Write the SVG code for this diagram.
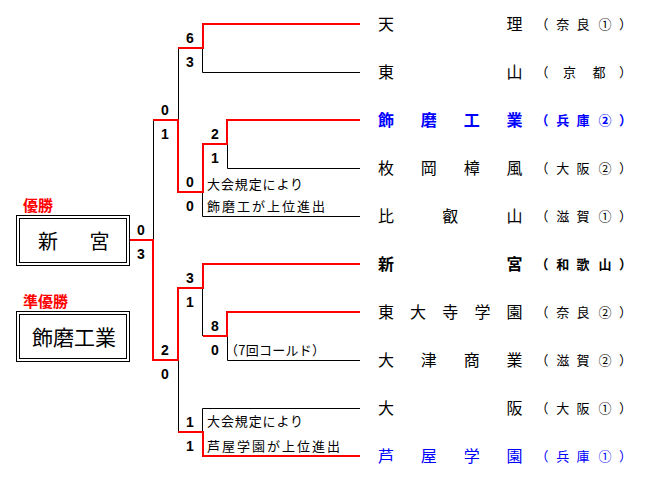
<svg xmlns="http://www.w3.org/2000/svg" width="648" height="481" viewBox="0 0 648 481">
<style>
.bg{fill:#fff}
.red{stroke:#f00;stroke-width:2;fill:none}
.blk{stroke:#000;stroke-width:1;fill:none}
.box{stroke:#000;stroke-width:1;fill:#fff}
.sc{font-family:"Liberation Sans",Arial,sans-serif;font-weight:bold;font-size:14px;text-anchor:middle;fill:#000}
.tn{font-family:"Noto Sans CJK JP","Noto Sans CJK SC",sans-serif;font-size:16px;text-anchor:middle;fill:#000}
.pf{font-family:"Noto Sans CJK JP","Noto Sans CJK SC",sans-serif;font-size:13px;text-anchor:middle;fill:#000}
.note{font-family:"Noto Sans CJK JP","Noto Sans CJK SC",sans-serif;font-size:13px;fill:#000}
.lbl{font-family:"Noto Sans CJK JP","Noto Sans CJK SC",sans-serif;font-size:15px;font-weight:bold;fill:#f00}
.bx{font-family:"Noto Sans CJK JP","Noto Sans CJK SC",sans-serif;text-anchor:middle;fill:#000}
.b{font-weight:bold}
.blue{fill:#00f}
</style>
<rect class="bg" x="0" y="0" width="648" height="481"/>

<g id="connectors">
  <path class="blk" d="M202.5,48 V72.5 H360"/>
  <path class="blk" d="M178.5,48 V120"/>
  <path class="blk" d="M227.5,144 V168.5 H360"/>
  <path class="blk" d="M202.5,192 V216.5 H360"/>
  <path class="blk" d="M153.5,120 V240"/>
  <path class="blk" d="M202.5,288 V336"/>
  <path class="blk" d="M227.5,336 V360.5 H360"/>
  <path class="blk" d="M178.5,360 V432"/>
  <path class="blk" d="M202.5,432 V408.5 H360"/>
  <path class="red" d="M360,24 H203 V48 H178"/>
  <path class="red" d="M360,120 H227 V144 H203 V192 H178 V120 H153"/>
  <path class="red" d="M360,264 H203 V288 H178 V360 H153 V240 H130"/>
  <path class="red" d="M360,312 H227 V336 H203"/>
  <path class="red" d="M360,456 H203 V432 H178"/>
</g>

<g id="scores">
  <text class="sc" x="190" y="43">6</text>
  <text class="sc" x="190" y="67">3</text>
  <text class="sc" x="165" y="115">0</text>
  <text class="sc" x="165" y="139">1</text>
  <text class="sc" x="215" y="139">2</text>
  <text class="sc" x="215" y="163">1</text>
  <text class="sc" x="190" y="187">0</text>
  <text class="sc" x="190" y="211">0</text>
  <text class="sc" x="141" y="235">0</text>
  <text class="sc" x="141" y="259">3</text>
  <text class="sc" x="190" y="283">3</text>
  <text class="sc" x="190" y="307">1</text>
  <text class="sc" x="215" y="331">8</text>
  <text class="sc" x="215" y="355">0</text>
  <text class="sc" x="165" y="355">2</text>
  <text class="sc" x="165" y="379">0</text>
  <text class="sc" x="190" y="427">1</text>
  <text class="sc" x="190" y="451">1</text>
</g>

<g id="notes">
  <text class="note" x="207" y="188.5" textLength="96" lengthAdjust="spacing">大会規定により</text>
  <text class="note" x="207" y="211" textLength="118" lengthAdjust="spacing">飾磨工が上位進出</text>
  <text class="note" x="225" y="355" textLength="100" lengthAdjust="spacing">（7回コールド）</text>
  <text class="note" x="207" y="426" textLength="96" lengthAdjust="spacing">大会規定により</text>
  <text class="note" x="207" y="451" textLength="133" lengthAdjust="spacing">芦屋学園が上位進出</text>
</g>

<g id="team-tenri">
  <text class="tn" x="386 514.5" y="30">天理</text>
  <text class="pf" x="542 562.7 583 605 625.5" y="29">（奈良①）</text>
</g>
<g id="team-higashiyama">
  <text class="tn" x="386 514.5" y="78">東山</text>
  <text class="pf" x="542 569.5 599 625.5" y="77">（京都）</text>
</g>
<g id="team-shikama">
  <text class="tn b blue" x="386 428.8 471.7 514.5" y="126">飾磨工業</text>
  <text class="pf b blue" x="542 562.7 583 605 625.5" y="125">（兵庫②）</text>
</g>
<g id="team-hiraoka">
  <text class="tn" x="386 428.8 471.7 514.5" y="174">枚岡樟風</text>
  <text class="pf" x="542 562.7 583 605 625.5" y="173">（大阪②）</text>
</g>
<g id="team-hiei">
  <text class="tn" x="386 450.25 514.5" y="222">比叡山</text>
  <text class="pf" x="542 562.7 583 605 625.5" y="221">（滋賀①）</text>
</g>
<g id="team-shingu">
  <text class="tn b" x="386 514.5" y="270">新宮</text>
  <text class="pf b" x="542 562.7 583 605 625.5" y="269">（和歌山）</text>
</g>
<g id="team-todaiji">
  <text class="tn" x="386 418.1 450.25 482.4 514.5" y="318">東大寺学園</text>
  <text class="pf" x="542 562.7 583 605 625.5" y="317">（奈良②）</text>
</g>
<g id="team-otsu">
  <text class="tn" x="386 428.8 471.7 514.5" y="366">大津商業</text>
  <text class="pf" x="542 562.7 583 605 625.5" y="365">（滋賀②）</text>
</g>
<g id="team-osaka">
  <text class="tn" x="386 514.5" y="414">大阪</text>
  <text class="pf" x="542 562.7 583 605 625.5" y="413">（大阪①）</text>
</g>
<g id="team-ashiya">
  <text class="tn blue" x="386 428.8 471.7 514.5" y="462">芦屋学園</text>
  <text class="pf blue" x="542 562.7 583 605 625.5" y="461">（兵庫①）</text>
</g>

<g id="champion">
  <text class="lbl" x="23" y="211">優勝</text>
  <rect class="box" x="16.5" y="215.5" width="113" height="50"/>
  <rect class="box" x="19.5" y="218.5" width="107" height="44"/>
  <text class="bx" x="48 99.5" y="248.5" font-size="20">新宮</text>
</g>
<g id="runner-up">
  <text class="lbl" x="23" y="307">準優勝</text>
  <rect class="box" x="16.5" y="311.5" width="113" height="50"/>
  <rect class="box" x="19.5" y="314.5" width="107" height="44"/>
  <text class="bx" x="42.5 63.5 84.5 105.5" y="345" font-size="21">飾磨工業</text>
</g>
</svg>
